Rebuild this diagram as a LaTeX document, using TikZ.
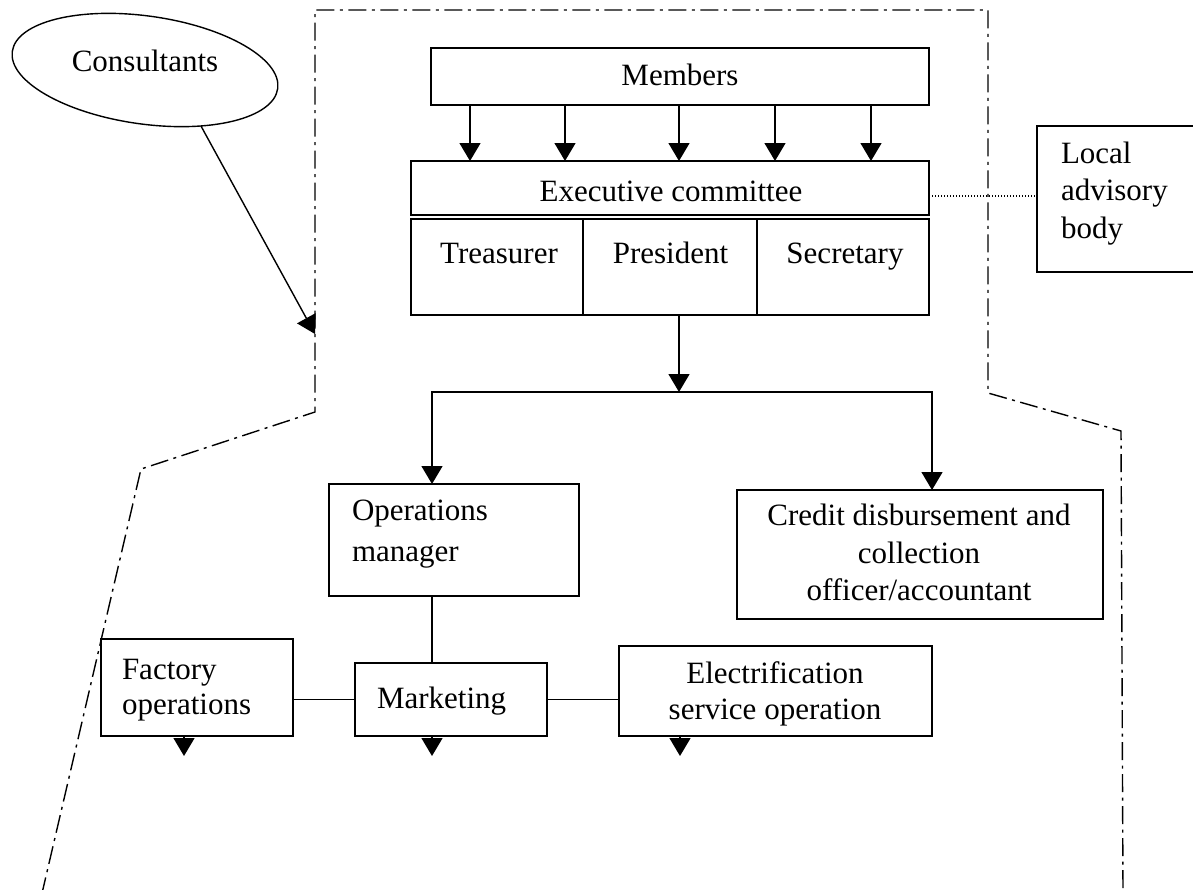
\documentclass[tikz,border=0pt]{standalone}
\usepackage{fontspec}
\setmainfont{Liberation Serif}
\usetikzlibrary{arrows.meta,shapes.geometric,calc}
\newcommand\fs{\fontsize{31pt}{37.5pt}\selectfont}
\begin{document}
\begin{tikzpicture}[x=1pt,y=-1pt,
  box/.style={draw, line width=1.5pt, inner sep=0pt, outer sep=0pt, rectangle},
  txt/.style={font=\fs, inner sep=0pt, outer sep=0pt},
  conn/.style={line width=1.4pt},
  arr/.style={conn, -{Triangle[width=21pt,length=18pt]}},
  bound/.style={line width=1.4pt, dash pattern=on 18pt off 5.5pt on 3pt off 5.5pt},
  dotline/.style={line width=1.1pt, dash pattern=on 1.2pt off 1.8pt},
]
\useasboundingbox (0,0) rectangle (1193,889);

% boundary of the organisation
\draw[bound] (41.6,895) -- (141,469) -- (315,412) -- (315,10) -- (988,10) -- (988,393) -- (1121,431) -- (1123,895);

% boxes
\node[box, minimum width=498pt, minimum height=57pt] (members) at (680,76.5) {};
\node[box, minimum width=518pt, minimum height=54pt] (exec) at (670,188) {};
\node[box, minimum width=172pt, minimum height=96pt] (treasurer) at (497,267) {};
\node[box, minimum width=174pt, minimum height=96pt] (president) at (670,267) {};
\node[box, minimum width=172pt, minimum height=96pt] (secretary) at (843,267) {};
\node[box, minimum width=163pt, minimum height=146pt] (local) at (1118.5,199) {};
\node[draw, ellipse, line width=1.4pt, minimum width=268pt, minimum height=108pt, rotate=-8, inner sep=0pt, outer sep=0pt] (cons) at (145,70) {};
\node[box, minimum width=250pt, minimum height=112pt] (ops) at (454,540) {};
\node[box, minimum width=366pt, minimum height=129pt] (credit) at (920,554.5) {};
\node[box, minimum width=192pt, minimum height=97pt] (factory) at (197,687.5) {};
\node[box, minimum width=192pt, minimum height=73pt] (marketing) at (451,699.5) {};
\node[box, minimum width=313pt, minimum height=90pt] (elec) at (775.5,691) {};

% texts (multi-line nodes are anchored at the baseline of their last line)
\node[txt, anchor=base] (consT) at (145,71) {Consultants};
\node[txt, anchor=base] (membersT) at (680,85) {Members};
\node[txt, anchor=base] (execT) at (671,201) {Executive committee};
\node[txt, anchor=base] (treasurerT) at (499,263) {Treasurer};
\node[txt, anchor=base] (presidentT) at (670.5,263) {President};
\node[txt, anchor=base] (secretaryT) at (845,263) {Secretary};
\node[txt, anchor=base west, align=left] (localT) at (1061,238) {Local\\advisory\\body};
\node[txt, anchor=base west, align=left] (opsT) at (352,561) {Operations\\[3.5pt]manager};
\node[txt, anchor=base west, align=left] (factoryT) at (122,714) {Factory\\[-2.5pt]operations};
\node[txt, anchor=base west] (marketingT) at (377,708) {Marketing};
\node[txt, anchor=base, align=center] (elecT) at (775,719) {Electrification\\[-1.5pt]service operation};
\node[txt, anchor=base, align=center] (creditT) at (919,600.5) {Credit disbursement and\\collection\\officer/accountant};

% members -> executive committee
\foreach \dx [count=\i] in {-210,-115,-1,95,191} {
  \coordinate (m\i) at ([xshift=\dx pt]members.south);
  \draw[arr] (m\i) -- (m\i |- exec.north);
}

% executive -> local advisory body
\coordinate (execR) at ([yshift=-8pt]exec.east);
\draw[dotline] (execR) -- (execR -| local.west);

% consultants
\coordinate (consTip) at (315,334);
\draw[arr] (cons.-37) -- (consTip);

% president -> branches
\coordinate (pres) at ([xshift=9pt]president.south);
\coordinate (br) at ($(pres)+(0,77)$);
\draw[arr] (pres) -- (br);
\coordinate (opsIn) at ([xshift=-22pt]ops.north);
\coordinate (creditIn) at ([xshift=12pt]credit.north);
\draw[arr] (br) -| (opsIn);
\draw[arr] (br) -| (creditIn);

% operations
\coordinate (opsOut) at ([xshift=-22pt]ops.south);
\draw[conn] (opsOut) -- (opsOut |- marketing.north);
\draw[conn] (marketing.west) -- (marketing.west -| factory.east);
\draw[conn] (marketing.east) -- (marketing.east -| elec.west);

% small downward arrows
\foreach \n/\dx in {factory/-13, marketing/-19, elec/-95.5} {
  \coordinate (\n-d) at ([xshift=\dx pt]\n.south);
  \coordinate (\n-e) at ([xshift=\dx pt, yshift=-20pt]\n.south);
  \draw[arr] (\n-d) -- (\n-e);
}
\end{tikzpicture}
\end{document}
